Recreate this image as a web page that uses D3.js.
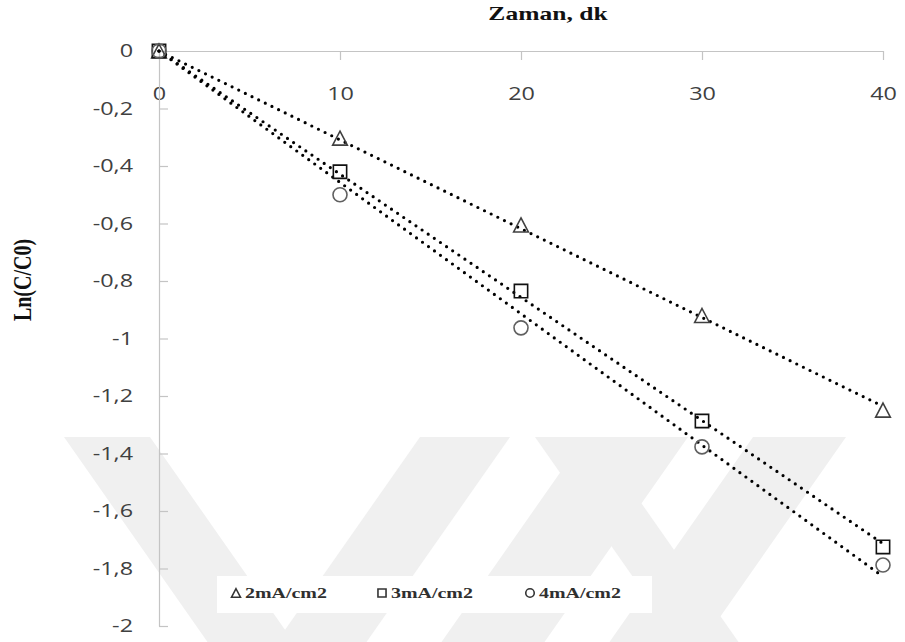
<!DOCTYPE html>
<html>
<head>
<meta charset="utf-8">
<script src="https://cdn.jsdelivr.net/npm/d3@7"></script>
<style>
  html, body { margin: 0; padding: 0; background: #ffffff; }
  svg { display: block; }
</style>
</head>
<body>
<svg id="chart" width="905" height="642"></svg>
<script>
// ---- data ----
const times = [0, 10, 20, 30, 40];
const series2mA = [0, -0.303, -0.605, -0.92, -1.249];
const series3mA = [0, -0.42, -0.835, -1.287, -1.725];
const series4mA = [0, -0.50, -0.963, -1.377, -1.788];
const seriesNames = ["2mA/cm2", "3mA/cm2", "4mA/cm2"];
const xTicks = [0, 10, 20, 30, 40];
const yTicks = [0, -0.2, -0.4, -0.6, -0.8, -1, -1.2, -1.4, -1.6, -1.8, -2];
const titleText = "Zaman, dk";
const yLabelText = "Ln(C/C0)";

const svg = d3.select("#chart");
const SX = 1.3; // horizontal stretch of the original picture

const x = d3.scaleLinear().domain([0, 40]).range([159, 883]);
const y = d3.scaleLinear().domain([-2, 0]).range([626, 51]);

// ---- watermark (faint diagonal bands) ----
const wmTop = 437, wmBot = 642, wmSlope = 0.7;
const bands = [
  { x1: 64, x2: 150, dir: 1 },
  { x1: 420, x2: 510, dir: -1 },
  { x1: 585, x2: 688, dir: -1 },
  { x1: 753, x2: 846, dir: -1 },
  { x1: 535, x2: 595, dir: 1 }
];
const wm = svg.append("g").attr("fill", "#f0f0f0");
bands.forEach(b => {
  const h = (wmBot - wmTop) * wmSlope;
  const pts = [[b.x1, wmTop], [b.x2, wmTop], [b.x2 + b.dir * h, wmBot], [b.x1 + b.dir * h, wmBot]];
  wm.append("path").attr("d", "M" + pts.map(p => p.join(",")).join("L") + "Z");
});

// ---- axes ----
const fmt = d => {
  const v = +d.toFixed(1);
  return (v === 0 ? "0" : String(v)).replace(".", ",");
};
const axisColor = "#c4c4c4";
const tickFont = "'Open Sans', 'Liberation Sans', sans-serif";

const gx = svg.append("g").attr("transform", `translate(0,${y(0)})`)
  .call(d3.axisBottom(x).tickValues(xTicks).tickSize(9).tickSizeOuter(0).tickPadding(27).tickFormat(d3.format("d")));
const gy = svg.append("g").attr("transform", `translate(${x(0)},0)`)
  .call(d3.axisLeft(y).tickValues(yTicks).tickSize(-9).tickSizeOuter(0).tickPadding(26).tickFormat(fmt));

[gx, gy].forEach(g => {
  g.select(".domain").attr("stroke", axisColor).attr("stroke-width", 1.2);
  g.selectAll(".tick line").attr("stroke", axisColor).attr("stroke-width", 1.2);
  g.selectAll(".tick text")
    .attr("fill", "#404040")
    .style("font-family", tickFont)
    .style("font-size", "18px");
});
gx.selectAll(".tick text").attr("transform", `scale(${SX},1)`);
gy.selectAll(".tick text").each(function() {
  const t = d3.select(this);
  const tx = +t.attr("x");
  t.attr("x", tx / SX).attr("transform", `scale(${SX},1)`);
});

// ---- title & y label ----
svg.append("text")
  .attr("transform", `translate(548,20) scale(1.42,1)`)
  .attr("text-anchor", "middle")
  .style("font-family", "'Liberation Serif', 'DejaVu Serif', serif")
  .style("font-weight", "bold")
  .style("font-size", "18px")
  .attr("fill", "#111")
  .text(titleText);

svg.append("text")
  .attr("transform", `translate(31,280) scale(${SX},1) rotate(-90)`)
  .attr("text-anchor", "middle")
  .style("font-family", "'Liberation Serif', 'DejaVu Serif', serif")
  .style("font-weight", "bold")
  .style("font-size", "20px")
  .attr("fill", "#111")
  .text(yLabelText);

// ---- trend lines (least squares through origin) ----
const allSeries = [series2mA, series3mA, series4mA];
const lineGen = d3.line().x(d => x(d[0])).y(d => y(d[1]));
allSeries.forEach(vals => {
  const sxy = d3.sum(times, (t, i) => t * vals[i]);
  const sxx = d3.sum(times, t => t * t);
  const k = sxy / sxx;
  svg.append("path")
    .attr("d", lineGen([[0, 0], [40, 40 * k]]))
    .attr("fill", "none")
    .attr("stroke", "#000")
    .attr("stroke-width", 3.2)
    .attr("stroke-linecap", "round")
    .attr("stroke-dasharray", "0 7.4");
});

// ---- markers ----
function triPath(w, h) {
  return `M0,${-h / 2}L${w / 2},${h / 2}L${-w / 2},${h / 2}Z`;
}
function sqPath(s) {
  return `M${-s / 2},${-s / 2}h${s}v${s}h${-s}Z`;
}
const markerStyles = [
  { kind: "tri", color: "#404040" },
  { kind: "sq", color: "#111111" },
  { kind: "circ", color: "#606060" }
];
function drawMarker(g, kind, color, cx, cy, size) {
  if (kind === "tri") {
    g.append("path").attr("d", triPath(size * 1.05, size))
      .attr("transform", `translate(${cx},${cy})`)
      .attr("fill", "none").attr("stroke", color).attr("stroke-width", 1.6);
  } else if (kind === "sq") {
    g.append("path").attr("d", sqPath(size * 0.95))
      .attr("transform", `translate(${cx},${cy})`)
      .attr("fill", "none").attr("stroke", color).attr("stroke-width", 1.6);
  } else {
    g.append("circle").attr("cx", cx).attr("cy", cy).attr("r", size / 2)
      .attr("fill", "none").attr("stroke", color).attr("stroke-width", 1.6);
  }
}
const mg = svg.append("g");
allSeries.forEach((vals, si) => {
  times.forEach((t, i) => {
    drawMarker(mg, markerStyles[si].kind, markerStyles[si].color, x(t), y(vals[i]), 14);
  });
});

// ---- legend ----
const lg = svg.append("g");
lg.append("rect").attr("x", 217).attr("y", 576).attr("width", 435).attr("height", 37).attr("fill", "#ffffff");
const legendX = [236, 382, 530];
seriesNames.forEach((name, i) => {
  drawMarker(lg, markerStyles[i].kind, "#333", legendX[i], 593, 8.5);
  lg.append("text")
    .attr("transform", `translate(${legendX[i] + 9},598) scale(1.33,1)`)
    .style("font-family", "'Liberation Serif', 'DejaVu Serif', serif")
    .style("font-weight", "bold")
    .style("font-size", "15px")
    .attr("fill", "#2f2f2f")
    .text(name);
});
</script>
</body>
</html>
